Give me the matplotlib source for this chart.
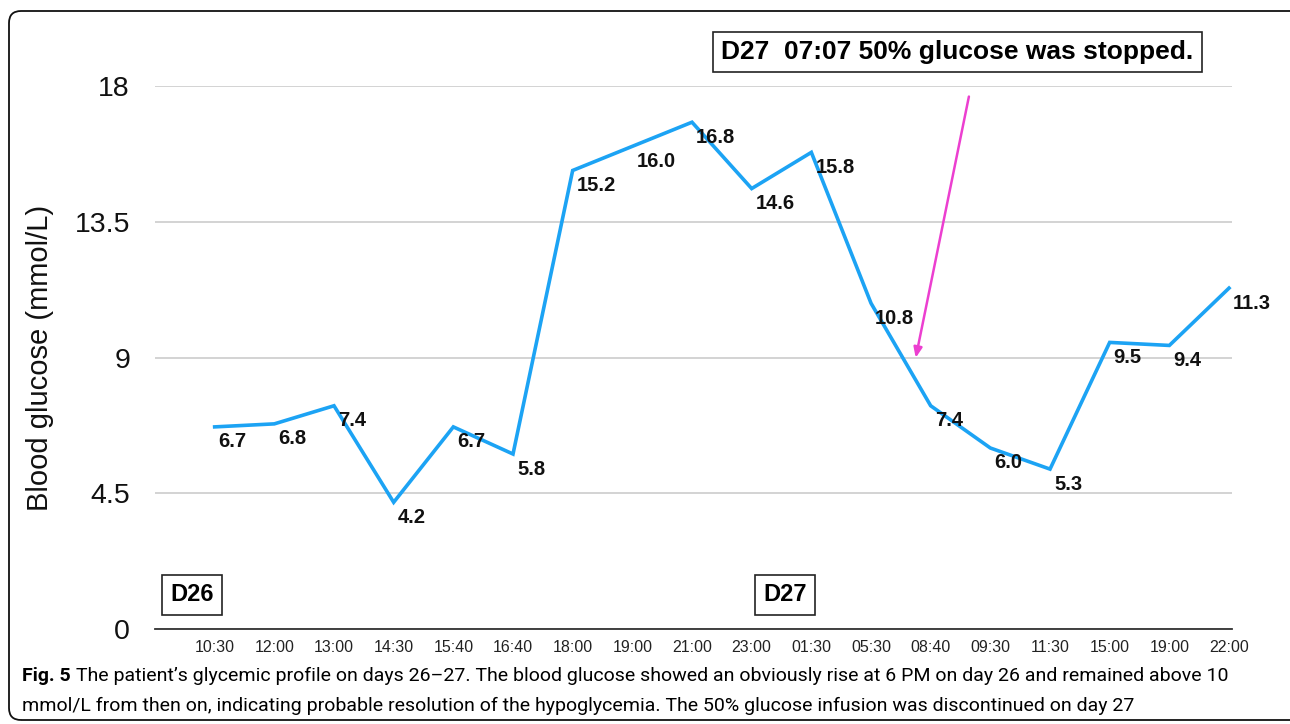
import matplotlib
matplotlib.use("Agg")
import matplotlib.pyplot as plt
from matplotlib.patches import FancyBboxPatch
from matplotlib.transforms import IdentityTransform

times = ["10:30", "12:00", "13:00", "14:30", "15:40", "16:40", "18:00", "19:00", "21:00",
         "23:00", "01:30", "05:30", "08:40", "09:30", "11:30", "15:00", "19:00", "22:00"]
glucose = [6.7, 6.8, 7.4, 4.2, 6.7, 5.8, 15.2, 16.0, 16.8, 14.6, 15.8, 10.8, 7.4, 6.0, 5.3, 9.5, 9.4, 11.3]
value_labels = ["6.7", "6.8", "7.4", "4.2", "6.7", "5.8", "15.2", "16.0", "16.8", "14.6", "15.8",
                "10.8", "7.4", "6.0", "5.3", "9.5", "9.4", "11.3"]
yticks = [0, 4.5, 9, 13.5, 18]
ytick_labels = ["0", "4.5", "9", "13.5", "18"]

plt.rcParams['font.family'] = ['Liberation Sans', 'DejaVu Sans']

W, H = 1290, 724
fig = plt.figure(figsize=(W / 100, H / 100), dpi=100)
ax = fig.add_axes([155 / W, 1 - 629 / H, (1232 - 155) / W, (629 - 86) / H])

x = list(range(len(times)))
ax.plot(x, glucose, color="#1ca3f4", lw=2.6, solid_joinstyle="miter", zorder=3)

ax.set_xlim(-1, 17.05)
ax.set_ylim(0, 18)
ax.set_yticks(yticks)
ax.set_yticklabels(ytick_labels, fontsize=20.5, color="#111111")
ax.set_xticks(x)
ax.set_xticklabels(times, fontsize=11.5, color="#222222")
ax.tick_params(axis="both", length=0)
ax.tick_params(axis="y", pad=18)
ax.tick_params(axis="x", pad=8)
for s in ["left", "right", "top"]:
    ax.spines[s].set_visible(False)
ax.spines["bottom"].set_color("#333333")
ax.spines["bottom"].set_linewidth(1.3)
ax.yaxis.grid(True, color="#c8c8c8", lw=1.1)
ax.set_axisbelow(True)
ax.set_ylabel("Blood glucose (mmol/L)", fontsize=21, labelpad=15, color="#111111")

# value labels
for xi, yi, lab in zip(x, glucose, value_labels):
    ax.annotate(lab, (xi, yi), xytext=(4, -15), textcoords="offset pixels",
                ha="left", va="center", fontsize=14.5, fontweight="bold", color="#111111")

# day boxes
box = dict(boxstyle="square,pad=0.35", fc="white", ec="#222222", lw=1.2)
ax.text(-0.385, 1.13, "D26", ha="center", va="center", fontsize=17, fontweight="bold",
        bbox=box, clip_on=False)
ax.text(9.56, 1.13, "D27", ha="center", va="center", fontsize=17, fontweight="bold",
        bbox=box, clip_on=False)

# annotation
ax.text(12.45, 19.13, "D27  07:07 50% glucose was stopped.", ha="center", va="center",
        fontsize=19, fontweight="bold", clip_on=False,
        bbox=dict(boxstyle="square,pad=0.3", fc="white", ec="#222222", lw=1.2))
ax.annotate("", xy=(11.74, 8.9), xytext=(12.65, 17.74),
            arrowprops=dict(arrowstyle="-|>,head_length=0.6,head_width=0.25",
                            color="#ec3fd0", lw=1.8), annotation_clip=False)

# caption
cap_font = ["Roboto", "DejaVu Sans"]
t1 = fig.text(22 / W, 1 - 676 / H, "Fig. 5", fontsize=14, fontweight="bold", va="center",
              ha="left", family=cap_font)
fig.canvas.draw()
ext = t1.get_window_extent()
fig.text((ext.x1 + 5) / W, 1 - 676 / H,
         "The patient\u2019s glycemic profile on days 26\u201327. The blood glucose showed an obviously rise at 6 PM on day 26 and remained above 10",
         fontsize=14, va="center", ha="left", family=cap_font)
fig.text(22 / W, 1 - 706 / H,
         "mmol/L from then on, indicating probable resolution of the hypoglycemia. The 50% glucose infusion was discontinued on day 27",
         fontsize=14, va="center", ha="left", family=cap_font)

# rounded border
border = FancyBboxPatch((9, 4), 1320, 709, boxstyle="round,pad=0,rounding_size=12",
                        fc="none", ec="#111111", lw=1.3, clip_on=False)
border.set_transform(IdentityTransform())
fig.patches.append(border)

fig.savefig("out.png", dpi=100)
